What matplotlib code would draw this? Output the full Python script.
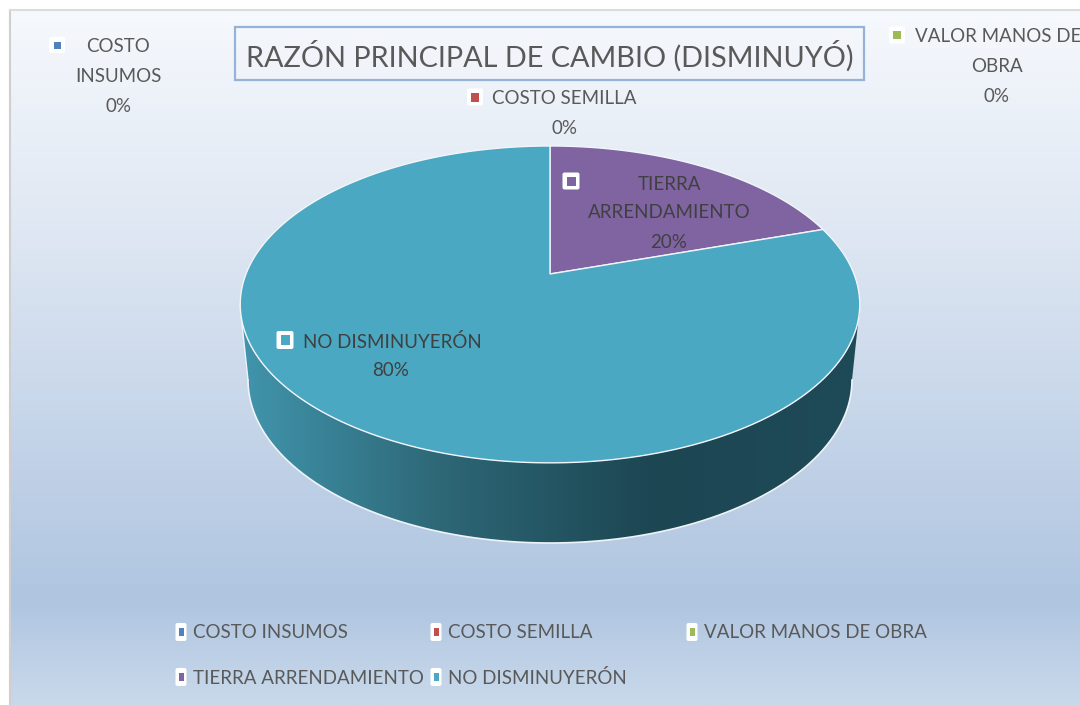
import numpy as np
import matplotlib
matplotlib.use('Agg')
import matplotlib.pyplot as plt
from matplotlib.colors import LinearSegmentedColormap
from matplotlib.patches import FancyBboxPatch, Polygon, Rectangle

plt.rcParams['font.family'] = ['Lato', 'DejaVu Sans']

categories = ['COSTO INSUMOS', 'COSTO SEMILLA', 'VALOR MANOS DE OBRA',
              'TIERRA ARRENDAMIENTO', 'NO DISMINUYERÓN']
values = [0, 0, 0, 20, 80]
colors = ['#4f81bd', '#c0504d', '#9bbb59', '#8064a2', '#4aa8c2']
title = 'RAZÓN PRINCIPAL DE CAMBIO (DISMINUYÓ)'

fig = plt.figure(figsize=(10.8, 7.05), dpi=100)
ax = fig.add_axes([0, 0, 1, 1])
ax.set_xlim(0, 1080)
ax.set_ylim(705, 0)
ax.axis('off')

# background gradient, chart area starts at 10,10
bg = LinearSegmentedColormap.from_list('bg', [(0, '#f6f9fd'), (0.3, '#e0e8f3'), (0.85, '#afc5e0'), (1, '#c9d9eb')])
ax.imshow(np.linspace(0, 1, 256).reshape(-1, 1), cmap=bg, extent=(10, 1080, 705, 10), aspect='auto', zorder=0)
ax.set_xlim(0, 1080)
ax.set_ylim(705, 0)
ax.plot([10, 10], [705, 10], color='#cfcfcf', lw=1.5, zorder=1)
ax.plot([10, 1080], [10, 10], color='#dcdcdc', lw=1.5, zorder=1)


# circle seen in perspective, same projection as the 3d pie
def project(angle):
    u, v = np.sin(angle), np.cos(angle)
    k = 0.192
    return 550 + 304 * u / (1 + k * v), 274 - 152.6 * v / (1 + k * v)


# side wall, horizontal gradient clipped to the lower rim
t = np.linspace(0, np.pi, 200)
rim_x = 550 - 310 * np.cos(t)
rim_y = 304.5 + 158.5 * np.sin(t)
low_x = 550 + 302 * np.cos(t)
low_y = 380 + 163 * np.sin(t)
side = Polygon(np.r_[np.c_[rim_x, rim_y], np.c_[low_x, low_y]], closed=True, fc='none', ec='none')
ax.add_patch(side)
side_cmap = LinearSegmentedColormap.from_list('side', ['#4195ad', '#2d6675', '#1c4652', '#1f4a58'])
im = ax.imshow(np.linspace(0, 1, 256).reshape(1, -1), cmap=side_cmap, extent=(240, 860, 550, 300), aspect='auto', zorder=2)
im.set_clip_path(side)
ax.set_xlim(0, 1080)
ax.set_ylim(705, 0)
ax.plot(low_x, low_y, color='#eef3f8', lw=1.2, zorder=3)
ax.plot([240, 248], [305, 380], color='#eef3f8', lw=1, zorder=3)

# top face of the pie
fracs = np.array(values) / sum(values)
edges = np.r_[0, np.cumsum(fracs)] * 2 * np.pi
for i in range(len(values)):
    if values[i] == 0:
        continue
    a = np.linspace(edges[i], edges[i + 1], 200)
    x, y = project(a)
    ax.add_patch(Polygon(np.r_[[[550, 274]], np.c_[x, y]], closed=True, fc=colors[i], ec='#f2f6fa', lw=1, zorder=4))


def marker(x, y, w, h, iw, ih, color):
    ax.add_patch(FancyBboxPatch((x - w / 2 + 2, y - h / 2 + 2), w - 4, h - 4, boxstyle='round,pad=2',
                                fc='white', ec='none', zorder=6))
    ax.add_patch(Rectangle((x - iw / 2, y - ih / 2), iw, ih, fc=color, ec='none', zorder=7))


def label(x, y, s, size=13.5, ha='center', color='#595959', **kw):
    ax.text(x, y, s, fontsize=size, ha=ha, va='center', color=color, zorder=8, **kw)


# title box
ax.add_patch(Rectangle((235, 27), 629, 53, fc='none', ec='#95b3d7', lw=1.6, zorder=5))
label(550, 56, title, size=20.8)

# data labels
marker(57, 45, 16, 16, 7, 7, colors[0])
label(118, 47, 'COSTO')
label(118, 77, 'INSUMOS')
label(118, 107, '0%')

marker(475, 97, 16, 17, 8, 9, colors[1])
label(492, 99, 'COSTO SEMILLA', ha='left')
label(564, 128, '0%')

marker(897, 35, 16, 17, 8, 8, colors[2])
label(915, 37, 'VALOR MANOS DE', ha='left')
label(997, 67, 'OBRA')
label(997, 96, '0%')

marker(571, 181, 17, 17, 9, 9, colors[3])
label(670, 184, 'TIERRA', color='#404040')
label(669, 213, 'ARRENDAMIENTO', color='#404040')
label(669, 242, '20%', color='#404040')

marker(285, 340, 17, 18, 9, 10, colors[4])
label(303, 342, 'NO DISMINUYERÓN', ha='left', color='#404040')
label(391, 371, '80%', color='#404040')

# legend
legend_x = [181, 436, 692, 181, 436]
legend_y = [632, 632, 632, 677, 677]
for i in range(len(categories)):
    marker(legend_x[i], legend_y[i], 11, 18, 5, 8, colors[i])
    label(legend_x[i] + 12, legend_y[i] + 1, categories[i], ha='left')

fig.savefig('out.png', dpi=100)
